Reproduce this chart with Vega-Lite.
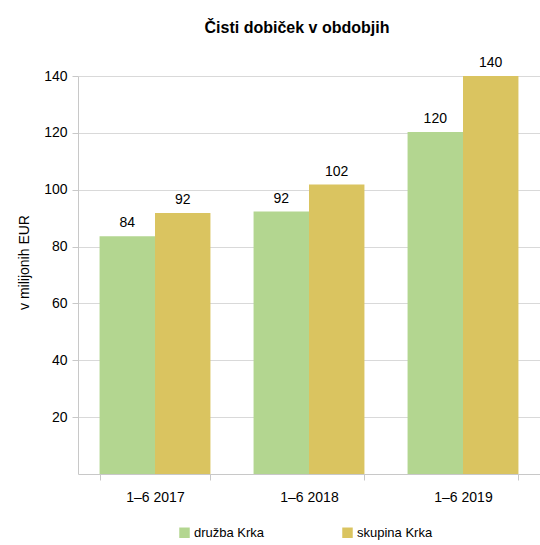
{
  "$schema": "https://vega.github.io/schema/vega-lite/v6.json",
  "autosize": "none",
  "width": 462,
  "height": 398,
  "padding": {"left": 78, "top": 76, "right": 0, "bottom": 71},
  "background": "white",
  "title": {
    "text": "Čisti dobiček v obdobjih",
    "font": "Liberation Sans",
    "fontSize": 16,
    "fontWeight": "bold",
    "color": "#000000",
    "offset": 20,
    "dx": -12
  },
  "data": {
    "values": [
      {"obdobje": "1–6 2017", "serija": "družba Krka", "vrednost": 83.6},
      {"obdobje": "1–6 2017", "serija": "skupina Krka", "vrednost": 91.8},
      {"obdobje": "1–6 2018", "serija": "družba Krka", "vrednost": 92.3},
      {"obdobje": "1–6 2018", "serija": "skupina Krka", "vrednost": 101.8},
      {"obdobje": "1–6 2019", "serija": "družba Krka", "vrednost": 120.3},
      {"obdobje": "1–6 2019", "serija": "skupina Krka", "vrednost": 140.0}
    ]
  },
  "encoding": {
    "x": {
      "field": "obdobje",
      "type": "nominal",
      "scale": {"paddingInner": 0.28, "paddingOuter": 0.14},
      "axis": {
        "title": null,
        "labelAngle": 0,
        "labelFont": "Liberation Sans",
        "labelFontSize": 14,
        "labelColor": "#000000",
        "labelPadding": 10,
        "domainColor": "#c8c8c8",
        "tickColor": "#c8c8c8",
        "tickBand": "extent",
        "tickSize": 6,
        "grid": false
      }
    },
    "xOffset": {"field": "serija", "type": "nominal", "scale": {"paddingInner": 0, "paddingOuter": 0}},
    "y": {
      "field": "vrednost",
      "type": "quantitative",
      "scale": {"domain": [0, 140], "nice": false},
      "axis": {
        "title": "v milijonih EUR",
        "titleFont": "Liberation Sans",
        "titleFontSize": 14,
        "titleFontWeight": "normal",
        "titleColor": "#000000",
        "titlePadding": 12,
        "titleY": 186,
        "values": [20, 40, 60, 80, 100, 120, 140],
        "labelFont": "Liberation Sans",
        "labelFontSize": 14,
        "labelColor": "#000000",
        "labelPadding": 5,
        "domainColor": "#c8c8c8",
        "tickColor": "#c8c8c8",
        "tickSize": 6,
        "gridColor": "#d9d9d9"
      }
    }
  },
  "layer": [
    {
      "mark": {"type": "bar"},
      "encoding": {
        "color": {
          "field": "serija",
          "type": "nominal",
          "scale": {"domain": ["družba Krka", "skupina Krka"], "range": ["#b3d690", "#dac460"]},
          "legend": {
            "title": null,
            "orient": "none",
            "legendX": 100,
            "legendY": 450,
            "direction": "horizontal",
            "symbolType": "square",
            "symbolSize": 110,
            "symbolStrokeWidth": 0,
            "labelFont": "Liberation Sans",
            "labelFontSize": 13,
            "labelColor": "#000000",
            "labelOffset": 3,
            "columnPadding": 76
          }
        }
      }
    },
    {
      "mark": {"type": "text", "dy": -13, "font": "Liberation Sans", "fontSize": 14, "color": "#000000"},
      "encoding": {
        "text": {"field": "vrednost", "type": "quantitative", "format": ".0f"}
      }
    }
  ],
  "config": {"view": {"stroke": null}}
}
